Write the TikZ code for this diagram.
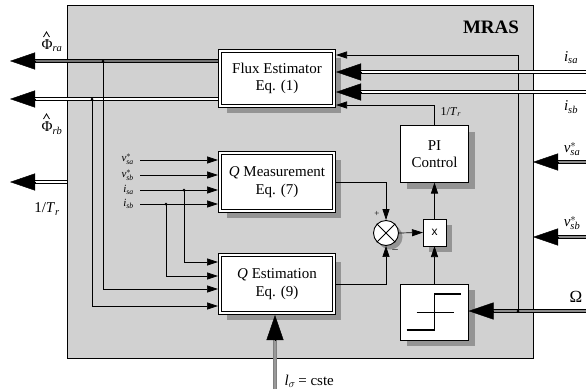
\documentclass[tikz,border=0pt]{standalone}
\usepackage{fontspec}
\setmainfont{Liberation Serif}
\newfontfamily\sansf{Liberation Sans}
\usetikzlibrary{arrows.meta,calc,shadows}
\newcommand\bigarr[3][]{%
  \draw[line width=0.9pt,double=white,double distance=2.4pt,shorten >=22pt,#1] (#2) -- (#3);
  \draw[line width=0.4pt,-{Triangle[length=25pt,width=17pt]}] ($(#3)!25pt!(#2)$) -- (#3);}
\makeatletter
\newcommand\ssz[1]{\mbox{\fontsize\sf@size\z@\selectfont\itshape #1}}
\makeatother
\newcommand\vs[1]{\textit{v}$^{*}_{\ssz{#1}}$}
\newcommand\vsc[1]{\textit{v}$^{*}_{\kern-0.5pt\ssz{#1}}$}
\newcommand\isub[1]{\textit{i}$_{\ssz{#1}}$}
\newcommand\phisub[1]{Φ$_{\ssz{#1}}$}
\begin{document}
\begin{tikzpicture}[x=1pt,y=-1pt,font=\fontsize{15}{17.5}\selectfont,
  blk/.style={draw,line width=1.2pt,double=white,double distance=1.3pt,fill=white,align=center,
    inner sep=0pt,outer sep=2pt,general shadow={fill=black!42,shadow xshift=7pt,shadow yshift=-7pt}},
  sblk/.style={draw,line width=0.9pt,fill=white,align=center,inner sep=0pt,outer sep=0pt,
    general shadow={fill=black!42,shadow xshift=6pt,shadow yshift=-6pt}},
  sarr/.style={line width=0.7pt,-{Triangle[length=11pt,width=7pt]}},
  dot/.style={circle,fill,inner sep=0pt,minimum size=3pt},
  hatmark/.style={draw,line width=0.8pt},
  small/.style={font=\fontsize{11}{11}\selectfont,inner sep=0pt}]
\useasboundingbox (0,0) rectangle (586,389);
% main box
\node[draw,line width=1pt,fill=black!18,minimum width=466pt,minimum height=353pt,inner sep=0pt,outer sep=0pt,anchor=north west] (mras) at (67,5) {};
\node[font=\bfseries\fontsize{19}{19}\selectfont] (mrastxt) at (491,27) {MRAS};
% blocks
\node[blk,minimum width=114pt,minimum height=55pt] (flux) at (277,78.5) {Flux Estimator\\Eq. (1)};
\node[blk,minimum width=114pt,minimum height=58pt] (qm) at (277,182) {\textit{Q} Measurement\\Eq. (7)};
\node[blk,minimum width=114pt,minimum height=58pt] (qe) at (277,284) {\textit{Q} Estimation\\Eq. (9)};
\node[sblk,minimum width=68pt,minimum height=57pt] (pi) at (434.5,154) {PI\\Control};
\node[sblk,minimum width=23pt,minimum height=27pt,font=\sansf\fontsize{12}{12}\selectfont] (xb) at (434.5,232.5) {x};
\node[sblk,minimum width=68pt,minimum height=56pt] (st) at (434.5,312) {};
\draw[line width=0.6pt] ($(st.center)+(-18,0)$) -- ($(st.center)+(19,0)$);
\draw[line width=1.5pt] ($(st.center)+(-28,18)$) -- ($(st.center)+(0,18)$) -- ($(st.center)+(0,-18)$) -- ($(st.center)+(26,-18)$);
\node[circle,draw,line width=0.9pt,fill=white,minimum size=25pt,inner sep=0pt,
  general shadow={fill=black!42,shadow xshift=4pt,shadow yshift=-4pt}] (sum) at (386,233) {};
\draw[line width=0.9pt] (sum.north west) -- (sum.south east) (sum.north east) -- (sum.south west);
\node[font=\fontsize{9}{9}\selectfont] (plus) at (377,214) {+};
\node[font=\fontsize{11}{11}\selectfont] (minus) at (395,251) {--};
% internal connectors
\draw[sarr] (qm.east) -| (sum.north);
\draw[sarr] (qe.east) -| (sum.south);
\draw[sarr] (sum.east) -- (xb.west);
\draw[sarr] (st.north) -- (xb.south);
\draw[sarr] (xb.north) -- (pi.south);
\coordinate (trc) at (434.5,105);
\draw[sarr] (pi.north) -- (trc) -- (trc -| flux.east);
\node[anchor=west,font=\fontsize{12}{12}\selectfont] (trlab) at (437,112) {1/\textit{T}$_{\ssz{r}}$};
% Omega
\coordinate (om) at (586,311);
\coordinate (omT) at (om -| st.east);
\bigarr[double=black!45]{om}{omT}
\node[dot] (omd) at (518,311) {};
\coordinate (omtop) at (518,55);
\draw[sarr] (omd.center) -- (omtop) -- (omtop -| flux.east);
\node[font=\fontsize{17}{17}\selectfont] (omlab) at (576,297) {Ω};
% right inputs
\coordinate (isa) at (586,72); \coordinate (isaT) at (isa -| flux.east);
\bigarr{isa}{isaT}
\coordinate (isb) at (586,92); \coordinate (isbT) at (isb -| flux.east);
\bigarr{isb}{isbT}
\coordinate (vsa) at (586,162); \coordinate (vsaT) at (vsa -| mras.east);
\bigarr[double=black!45]{vsa}{vsaT}
\coordinate (vsb) at (586,237); \coordinate (vsbT) at (vsb -| mras.east);
\bigarr[double=black!45]{vsb}{vsbT}
\node (isalab) at (571,58) {\isub{sa}};
\node (isblab) at (571,107) {\isub{sb}};
\node (vsalab) at (572,149) {\vs{sa}};
\node (vsblab) at (572,223) {\vs{sb}};
% left outputs
\coordinate (fa) at (flux.west |- 0,61); \coordinate (oa) at (10,61);
\bigarr[double=black!55]{fa}{oa}
\coordinate (fb) at (flux.west |- 0,99); \coordinate (ob) at (10,99);
\bigarr{fb}{ob}
\coordinate (tra) at (mras.west |- 0,182); \coordinate (otr) at (10,182);
\bigarr{tra}{otr}
\node (phra) at (52,46) {\phisub{ra}};
\draw[hatmark] (43.5,37) -- (46.5,32) -- (49.5,37);
\node (phrb) at (52,128) {\phisub{rb}};
\draw[hatmark] (43.5,119) -- (46.5,114) -- (49.5,119);
\node (trleft) at (47,209) {1/\textit{T}$_{\ssz{r}}$};
% branches of flux outputs
\node[dot] (d1) at (103,61) {};
\node[dot] (d2) at (92,99) {};
\draw[sarr] (d1.center) |- (qe.west |- 0,289);
\draw[sarr] (d2.center) |- (qe.west |- 0,306);
% left inputs
\coordinate (l1) at (140,160); \draw[sarr] (l1) -- (l1 -| qm.west);
\coordinate (l2) at (140,175); \draw[sarr] (l2) -- (l2 -| qm.west);
\coordinate (l3) at (140,190); \draw[sarr] (l3) -- (l3 -| qm.west);
\coordinate (l4) at (140,204); \draw[sarr] (l4) -- (l4 -| qm.west);
\node[small,anchor=east] (t1) at (134,159) {\vs{sa}};
\node[small,anchor=east] (t2) at (134,175) {\vs{sb}};
\node[small,anchor=east] (t3) at (134,190) {\isub{sa}};
\node[small,anchor=east] (t4) at (134,204) {\isub{sb}};
\node[dot] (d3) at (184,190) {};
\node[dot] (d4) at (166,204) {};
\draw[sarr] (d3.center) |- (qe.west |- 0,262);
\draw[sarr] (d4.center) |- (qe.west |- 0,276);
% l sigma
\coordinate (ls) at (275,389); \coordinate (lsT) at (ls |- qe.south);
\bigarr[draw=black!50,double=black!40]{ls}{lsT}
\node[anchor=west] (lslab) at (281,381) {\textit{l}$_{\sigma}$\,= cste};
\end{tikzpicture}
\end{document}
